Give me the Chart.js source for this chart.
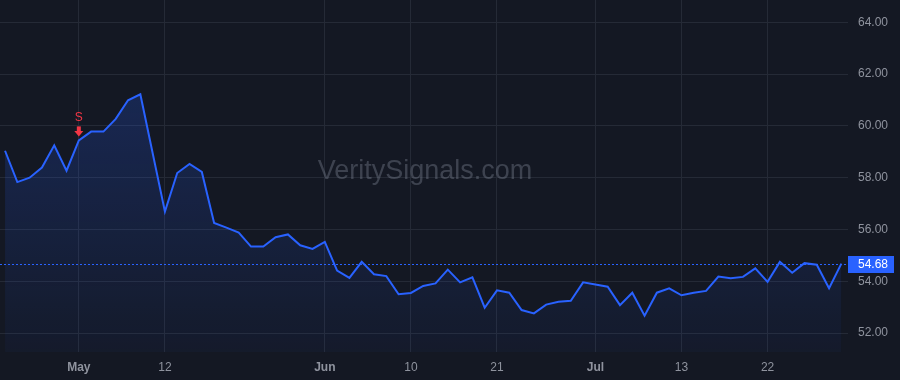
<!DOCTYPE html>
<html>
<head>
<meta charset="utf-8">
<script src="https://cdn.jsdelivr.net/npm/chart.js@4.4.1/dist/chart.umd.min.js"></script>
<style>
  html, body { margin: 0; padding: 0; background: #141823; }
  canvas { display: block; }
</style>
</head>
<body>
<canvas id="myChart" width="900" height="380"></canvas>
<script>
// DATA
var prices = [
  59.04, 57.83, 58.00, 58.39, 59.25, 58.27, 59.44, 59.78, 59.78, 60.27,
  60.99, 61.22, 58.95, 56.69, 58.18, 58.53, 58.22, 56.25, 56.07, 55.88,
  55.34, 55.34, 55.70, 55.81, 55.39, 55.25, 55.52, 54.41, 54.13, 54.75,
  54.27, 54.20, 53.50, 53.55, 53.82, 53.92, 54.45, 53.96, 54.15, 52.98,
  53.65, 53.56, 52.89, 52.76, 53.10, 53.21, 53.25, 53.96, 53.88, 53.79,
  53.08, 53.56, 52.67, 53.56, 53.73, 53.46, 53.56, 53.63, 54.18, 54.12,
  54.17, 54.50, 53.98, 54.75, 54.33, 54.70, 54.64, 53.73, 54.68
];
var tickIndex = [6, 13, 26, 33, 40, 48, 55, 62];
var tickText = ["May", "12", "Jun", "10", "21", "Jul", "13", "22"];
var monthLabels = ["May", "Jun", "Jul"];
var priceTicks = [52, 54, 56, 58, 60, 62, 64];
var lastPrice = 54.68;
var signalIndex = 6;
var signalText = "S";

var lineBlue = "#2962ff";
var gridColor = "#252a36";
var textGray = "#8f939e";
var fontFamily = "'Liberation Sans', Arial, sans-serif";

// watermark in the middle of the plot
const watermark = {
  id: "watermark",
  beforeDatasetsDraw(chart) {
    const c = chart.ctx;
    const a = chart.chartArea;
    c.save();
    c.font = "27px " + fontFamily;
    c.fillStyle = "rgba(120,126,140,0.42)";
    c.textAlign = "center";
    c.textBaseline = "middle";
    c.fillText("VeritySignals.com", 425, 172);
    c.restore();
  }
};

// "S" signal above a point
const signal = {
  id: "signal",
  afterDatasetsDraw(chart) {
    const c = chart.ctx;
    const x = chart.scales.x.getPixelForValue(signalIndex);
    const y = chart.scales.y.getPixelForValue(prices[signalIndex]);
    c.save();
    c.fillStyle = "#f23645";
    c.font = "12px " + fontFamily;
    c.textAlign = "center";
    c.textBaseline = "middle";
    c.fillText(signalText, x, y - 23);
    // arrow
    const tip = y - 4;
    c.beginPath();
    c.rect(x - 2, tip - 10, 4, 5);
    c.fill();
    c.beginPath();
    c.moveTo(x - 4.5, tip - 5.5);
    c.lineTo(x + 4.5, tip - 5.5);
    c.lineTo(x, tip);
    c.closePath();
    c.fill();
    c.restore();
  }
};

// dotted last price line + label on the axis
const priceLine = {
  id: "priceLine",
  afterDraw(chart) {
    const c = chart.ctx;
    const a = chart.chartArea;
    const y = Math.round(chart.scales.y.getPixelForValue(lastPrice)) + 0.5;
    c.save();
    c.strokeStyle = lineBlue;
    c.lineWidth = 1;
    c.setLineDash([2, 2]);
    c.beginPath();
    c.moveTo(a.left, y);
    c.lineTo(a.right, y);
    c.stroke();
    c.setLineDash([]);
    c.fillStyle = lineBlue;
    c.fillRect(a.right, y - 8.5, 46, 17);
    c.fillStyle = "#ffffff";
    c.font = "12px " + fontFamily;
    c.textBaseline = "middle";
    c.textAlign = "left";
    c.fillText(lastPrice.toFixed(2), a.right + 10, y + 0.5);
    c.restore();
  }
};

new Chart("myChart", {
  type: "line",
  data: {
    datasets: [{
      data: prices.map(function (v, i) { return { x: i, y: v }; }),
      borderColor: lineBlue,
      borderWidth: 2,
      pointRadius: 0,
      tension: 0,
      fill: "start",
      backgroundColor: function (ctx) {
        const area = ctx.chart.chartArea;
        if (!area) return "rgba(41,98,255,0.15)";
        const g = ctx.chart.ctx.createLinearGradient(0, area.top, 0, area.bottom);
        g.addColorStop(0, "rgba(41,98,255,0.28)");
        g.addColorStop(1, "rgba(41,98,255,0.04)");
        return g;
      }
    }]
  },
  options: {
    responsive: false,
    devicePixelRatio: 1,
    animation: false,
    layout: { padding: 0 },
    plugins: {
      legend: { display: false },
      tooltip: { enabled: false }
    },
    scales: {
      x: {
        type: "linear",
        min: -0.41,
        max: 68.54,
        afterBuildTicks: function (scale) {
          scale.ticks = tickIndex.map(function (v) { return { value: v }; });
        },
        afterFit: function (scale) {
          scale.height = 28;
          scale.paddingLeft = 0;
          scale.paddingRight = 0;
        },
        border: { display: false },
        grid: { color: gridColor, drawTicks: false },
        ticks: {
          autoSkip: false,
          maxRotation: 0,
          padding: 8,
          color: textGray,
          font: function (ctx) {
            var bold = false;
            if (ctx && ctx.tick) {
              bold = monthLabels.indexOf(tickText[tickIndex.indexOf(ctx.tick.value)]) >= 0;
            }
            return { family: fontFamily, size: 12, weight: bold ? "bold" : "normal" };
          },
          callback: function (v) { return tickText[tickIndex.indexOf(v)]; }
        }
      },
      y: {
        position: "right",
        min: 51.27,
        max: 64.86,
        afterBuildTicks: function (scale) {
          scale.ticks = priceTicks.map(function (v) { return { value: v }; });
        },
        afterFit: function (scale) {
          scale.width = 52;
          scale.paddingTop = 0;
          scale.paddingBottom = 0;
        },
        border: { display: false },
        grid: { color: gridColor, drawTicks: false },
        ticks: {
          padding: 10,
          color: textGray,
          font: { family: fontFamily, size: 12 },
          callback: function (v) { return v.toFixed(2); }
        }
      }
    }
  },
  plugins: [watermark, signal, priceLine]
});
</script>
</body>
</html>
